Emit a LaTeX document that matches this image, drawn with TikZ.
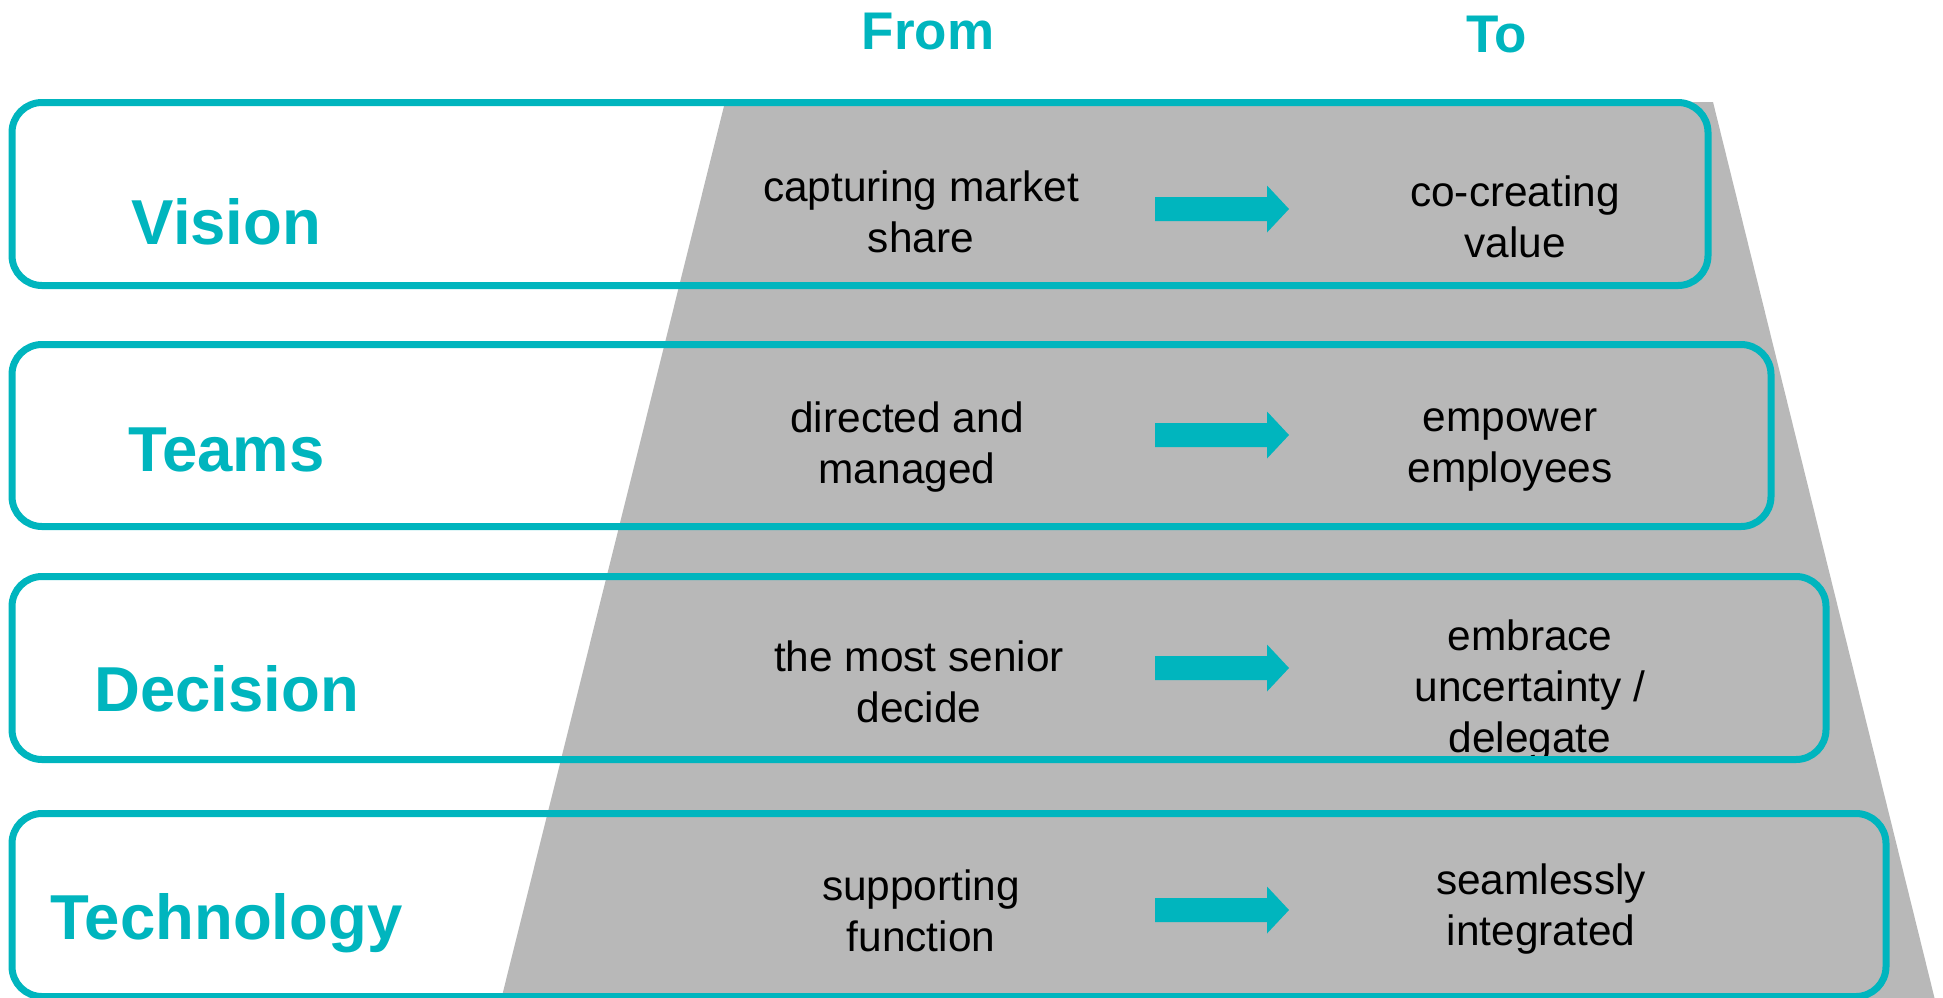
\documentclass[tikz,border=0pt]{standalone}
\usepackage{fontspec}
\setmainfont{Liberation Sans}
\definecolor{tealc}{RGB}{0,181,190}
\definecolor{grayc}{RGB}{184,184,184}
\tikzset{
  rowbox/.style={draw=tealc, line width=7pt, rounded corners=30pt, rectangle, inner sep=0pt, outer sep=0pt},
  rowlabel/.style={text=tealc, font=\fontsize{63.5}{70}\selectfont\bfseries, anchor=base, inner sep=0pt},
  header/.style={text=tealc, font=\fontsize{53}{60}\selectfont\bfseries, anchor=base, inner sep=0pt},
  celltext/.style={text=black, font=\fontsize{42.4}{51}\selectfont, align=center, anchor=base, inner sep=0pt},
  blockarrow/.pic={\fill[tealc] (0,-12) -- (112,-12) -- (112,-23.5) -- (134,0) -- (112,23.5) -- (112,12) -- (0,12) -- cycle;}
}
\begin{document}
\begin{tikzpicture}[x=1pt,y=-1pt]
\useasboundingbox (0,0) rectangle (1943,997);
% gray funnel
\fill[grayc] (725,102) -- (1713,102) -- (1935,1000) -- (501,1000) -- cycle;
% headers
\node[header] (from) at (928,49) {From};
\node[header] (to) at (1496.5,52) {To};
% row labels
\node[rowlabel] (lv) at (226.5,244) {Vision};
\node[rowlabel] (lt) at (226.5,471) {Teams};
\node[rowlabel] (ld) at (226.5,711) {Decision};
\node[rowlabel] (lg) at (226.5,939) {Technology};
% from texts (anchor = baseline of last line)
\node[celltext] (fv) at (921,252) {capturing market\\share};
\node[celltext] (ft) at (907,483) {directed and\\managed};
\node[celltext] (fd) at (919,722) {the most senior\\decide};
\node[celltext] (fg) at (921,951) {supporting\\function};
% to texts
\node[celltext] (tv) at (1515,257) {co-creating\\value};
\node[celltext] (tt) at (1510,482) {empower\\employees};
\node[celltext] (td) at (1530,752) {embrace\\uncertainty /\\delegate};
\node[celltext] (tg) at (1541,945) {seamlessly\\integrated};
% arrows
\pic at (1155,209) {blockarrow};
\pic at (1155,435) {blockarrow};
\pic at (1155,668) {blockarrow};
\pic at (1155,910) {blockarrow};
% row boxes
\node[rowbox, minimum width=1696pt, minimum height=183pt] (bv) at (860,194) {};
\node[rowbox, minimum width=1759pt, minimum height=182pt] (bt) at (891.5,435.5) {};
\node[rowbox, minimum width=1814pt, minimum height=183pt] (bd) at (919,668) {};
\node[rowbox, minimum width=1874pt, minimum height=183pt] (bg) at (949,905) {};
\end{tikzpicture}
\end{document}
